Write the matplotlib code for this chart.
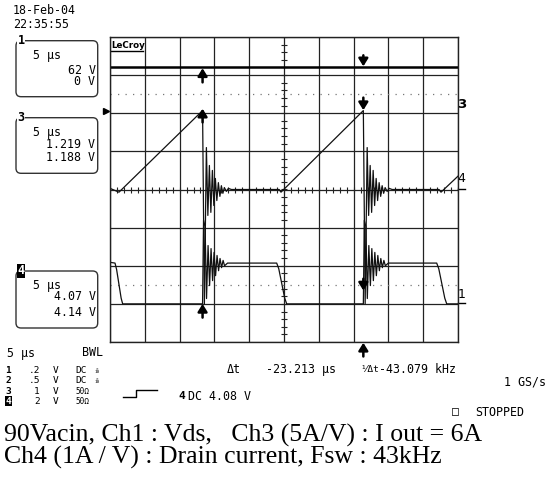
import matplotlib
matplotlib.use('Agg')
import numpy as np
import matplotlib.pyplot as plt
from matplotlib.patches import FancyBboxPatch

plt.rcParams['font.family'] = ['DejaVu Sans Mono', 'DejaVu Sans']

# ---- scope settings (5 us/div, 10 x 8 divisions) ----
T_DIV = 5.0
N_XDIV, N_YDIV = 10, 8

# cursor times (us) -- dt = 23.213 us
EDGE1 = 13.30
EDGE2 = 36.40

# ch3 : Iout, flat line (div)
ch3_t = [0.0, 50.0]
ch3_v = [3.21, 3.21]

# turn-off ringing, offsets in us from the cursor edge
ring1_dt = [0, 0.14, 0.36, 0.57, 0.79, 1.01, 1.22, 1.44, 1.65, 1.87, 2.08,
            2.30, 2.51, 2.73, 2.95, 3.16, 3.59]
ring1_v = [-3.0, -0.81, -0.97, -2.86, -1.47, -2.52, -1.55, -2.39, -1.65,
           -2.26, -1.73, -2.13, -1.81, -2.05, -1.86, -2.0, -1.93]
ring4_dt = [0, 0.26, 0.55, 0.76, 0.98, 1.19, 1.41, 1.62, 1.84, 2.05, 2.27,
            2.49, 2.70, 2.92, 3.13, 3.42, 3.71, 4.14]
ring4_v = [2.07, -3.0, 1.10, -0.68, 0.63, -0.60, 0.50, -0.42, 0.29, -0.29,
           0.18, -0.18, 0.10, -0.10, 0.05, -0.05, 0.03, 0.0]

# ch1 : Vds (div)
ch1_t = ([0.0, 0.72, 0.95, 1.60, 1.82]
         + [EDGE1 + d for d in ring1_dt]
         + [23.95, 24.25, 25.10, 25.39]
         + [EDGE2 + d for d in ring1_dt]
         + [46.94, 47.24, 48.10, 48.38, 50.0])
ch1_v = ([-1.91, -1.93, -2.10, -2.85, -3.0]
         + ring1_v
         + [-1.93, -2.08, -2.85, -3.0]
         + ring1_v
         + [-1.93, -2.08, -2.85, -3.0, -3.0])

# ch4 : drain current (div)
ch4_t = ([0.0, 1.29]
         + [EDGE1 + d for d in ring4_dt]
         + [24.30, 24.57]
         + [EDGE2 + d for d in ring4_dt]
         + [47.27, 47.56, 50.0])
ch4_v = ([0.03, -0.07]
         + ring4_v
         + [0.0, -0.07]
         + ring4_v
         + [0.0, -0.07, 0.35])

# horizontal cursor levels (div)
cursor_levels = [2.51, -2.50]

W, H = 558, 483
fig = plt.figure(figsize=(W / 100, H / 100), dpi=100)

# overlay in pixel units for the screen furniture
deco = fig.add_axes([0, 0, 1, 1])
deco.set_xlim(0, W)
deco.set_ylim(H, 0)
deco.axis('off')

# ---- grid ----
gx0, gy0, gx1, gy1 = 110, 37, 458, 342
ax = fig.add_axes([gx0 / W, 1 - gy1 / H, (gx1 - gx0) / W, (gy1 - gy0) / H])
ax.set_xlim(0, N_XDIV * T_DIV)
ax.set_ylim(-N_YDIV / 2, N_YDIV / 2)
ax.set_xticks(np.arange(0, N_XDIV * T_DIV + 1, T_DIV))
ax.set_yticks(np.arange(-N_YDIV / 2, N_YDIV / 2 + 1, 1))
ax.grid(True, color='#222222', lw=0.9)
ax.tick_params(length=0, labelbottom=False, labelleft=False)
for s in ax.spines.values():
    s.set_color('#222222')
    s.set_linewidth(1.0)
ax.set_facecolor('none')

# centre-line ticks
ax.plot(np.arange(0, 50.01, 1.0), np.zeros(51), ls='none', marker='|',
        ms=5, mew=0.8, color='#222222')
ax.plot(np.full(41, 25.0), np.arange(-4, 4.01, 0.2), ls='none', marker='_',
        ms=5, mew=0.8, color='#222222')

for lv in cursor_levels:
    ax.axhline(lv, color='#777777', lw=0.9, ls=(0, (1, 5)))

ax.plot(ch3_t, ch3_v, color='black', lw=1.8)
ax.plot(ch4_t, ch4_v, color='#111111', lw=0.9)
ax.plot(ch1_t, ch1_v, color='#111111', lw=0.9)

# cursor arrows
arr = dict(arrowstyle='-|>,head_length=0.45,head_width=0.28', lw=1.8,
           color='black', shrinkA=0, shrinkB=0)
ax.annotate('', xy=(EDGE1, 3.18), xytext=(EDGE1, 2.81), arrowprops=arr)
ax.annotate('', xy=(EDGE2, 3.23), xytext=(EDGE2, 3.52), arrowprops=arr)
ax.annotate('', xy=(EDGE1, 2.12), xytext=(EDGE1, 1.76), arrowprops=arr)
ax.annotate('', xy=(EDGE2, 2.08), xytext=(EDGE2, 2.41), arrowprops=arr)
ax.annotate('', xy=(EDGE1, -3.0), xytext=(EDGE1, -3.36), arrowprops=arr)
ax.annotate('', xy=(EDGE2, -2.65), xytext=(EDGE2, -2.34), arrowprops=arr)
ax.annotate('', xy=(EDGE2, -4.02), xytext=(EDGE2, -4.38), arrowprops=arr,
            annotation_clip=False)

# LeCroy logo
deco.text(111, 45.5, 'LeCroy', family='DejaVu Sans', fontsize=6.3,
          fontweight='bold', va='center', ha='left')
deco.plot([111, 143], [51, 51], color='black', lw=1)

# trigger level marker and channel ground markers
deco.plot([105.5], [111], marker='>', ms=4, color='black')
deco.text(461.5, 105, '3', fontsize=9.5, fontweight='bold', family='DejaVu Sans',
          ha='center', va='center')
deco.text(461.5, 178.5, '4', fontsize=9, family='DejaVu Sans',
          ha='center', va='center')
deco.plot([458, 465], [188.5, 188.5], color='black', lw=1)
deco.text(461.5, 294, '1', fontsize=9, family='DejaVu Sans',
          ha='center', va='center')
deco.plot([458, 465], [303, 303], color='black', lw=1)

# date
fs = 8.4
deco.text(13, 11, '18-Feb-04', fontsize=fs, va='center')
deco.text(13, 24, '22:35:55', fontsize=fs, va='center')

# parameter boxes on the left
boxes = [
    ('1', 40.7, 56.0, [('5 µs', 55), ('62 V', 70), ('0 V', 81.7)], False),
    ('3', 117.7, 55.6, [('5 µs', 132.7), ('1.219 V', 145), ('1.188 V', 157.3)], False),
    ('4', 271.0, 57.0, [('5 µs', 285), ('4.07 V', 296.7), ('4.14 V', 312.7)], True),
]
for lab, top, hgt, rows, inv in boxes:
    deco.add_patch(FancyBboxPatch((16, top), 81.7, hgt,
                                  boxstyle='round,pad=0,rounding_size=5',
                                  fc='none', ec='#333333', lw=1))
    if inv:
        deco.text(21, top, lab, fontsize=8.5, fontweight='bold', color='white',
                  ha='center', va='center',
                  bbox=dict(fc='black', ec='none', pad=0.6))
    else:
        deco.text(21, top, lab, fontsize=8.5, fontweight='bold', color='black',
                  ha='center', va='center',
                  bbox=dict(fc='white', ec='none', pad=0.6))
    deco.text(33, rows[0][1], rows[0][0], fontsize=fs, va='center', ha='left')
    for txt, yy in rows[1:]:
        deco.text(95.5, yy, txt, fontsize=fs, va='center', ha='right')

# bottom status area
deco.text(7, 353, '5 µs', fontsize=fs, va='center')
deco.text(82, 353, 'BWL', fontsize=fs, va='center')
fr = 6.8
chan_rows = [('1', '.2', 'DC', 370.5, False),
             ('2', '.5', 'DC', 380.5, False),
             ('3', '1', '50Ω', 391, False),
             ('4', '2', '50Ω', 401, True)]
for lab, vdiv, cpl, yy, inv in chan_rows:
    if inv:
        deco.text(8.5, yy, lab, fontsize=fr, fontweight='bold', color='white',
                  ha='center', va='center',
                  bbox=dict(fc='black', ec='none', pad=0.2))
    else:
        deco.text(8.5, yy, lab, fontsize=fr, fontweight='bold', ha='center',
                  va='center')
    deco.text(40, yy, vdiv, fontsize=fr, va='center', ha='right')
    deco.text(53, yy, 'V', fontsize=fr, va='center')
    if cpl == 'DC':
        deco.text(75, yy, cpl, fontsize=fr, va='center')
        deco.text(97, yy, '×\n10', fontsize=3.2, va='center', ha='center',
                  linespacing=0.7)
    else:
        deco.text(75, yy, cpl, fontsize=5.5, va='center')

deco.plot([123, 136, 136, 157], [397, 397, 389.5, 389.5], color='black', lw=1)
deco.text(178, 396, '4', fontsize=8, fontweight='bold', va='center')
deco.text(188, 396, 'DC 4.08 V', fontsize=fs, va='center')

deco.text(227, 369.5, 'Δt', fontsize=fs, va='center')
deco.text(266, 369.5, '-23.213 µs', fontsize=fs, va='center')
deco.text(360, 369.5, '¹⁄Δt', fontsize=6.8, va='center')
deco.text(379, 369.5, '-43.079 kHz', fontsize=fs, va='center')
deco.text(546.5, 382, '1 GS/s', fontsize=fs, va='center', ha='right')
deco.text(455, 412, '□', fontsize=fs, va='center', ha='center')
deco.text(475, 412, 'STOPPED', fontsize=fs, va='center')

# caption
deco.text(4, 435.5, '90Vacin, Ch1 : Vds,   Ch3 (5A/V) : I out = 6A',
          family='Liberation Serif', fontsize=18.5, va='center')
deco.text(4, 457.5, 'Ch4 (1A / V) : Drain current, Fsw : 43kHz',
          family='Liberation Serif', fontsize=18.5, va='center')

fig.savefig('out.png', dpi=100)
